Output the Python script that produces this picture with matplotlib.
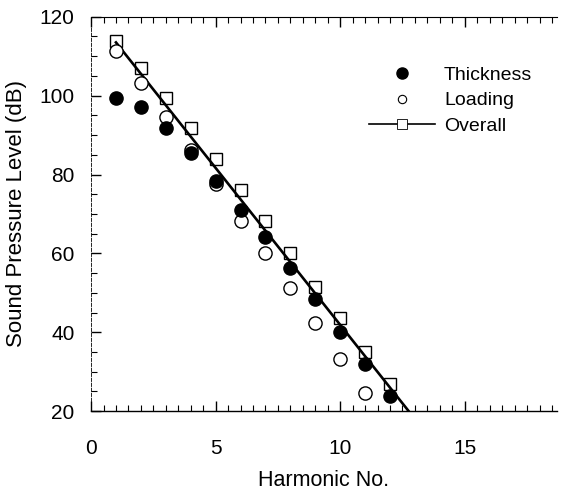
# Harmonic SPL comparison: thickness, loading and overall noise
import numpy as np
import matplotlib.pyplot as plt
from matplotlib.lines import Line2D
from matplotlib.ticker import MultipleLocator

plt.rcParams['font.family'] = ['Liberation Sans', 'DejaVu Sans']

# data
harmonic = [1, 2, 3, 4, 5, 6, 7, 8, 9, 10, 11, 12]
thickness = [99.3, 97.1, 91.8, 85.4, 78.4, 71.1, 64.1, 56.3, 48.4, 40.0, 32.0, 23.8]
loading_harm = [1, 2, 3, 4, 5, 6, 7, 8, 9, 10, 11]
loading = [111.4, 103.2, 94.7, 86.2, 77.5, 68.3, 60.1, 51.2, 42.3, 33.2, 24.5]
overall = [113.8, 107.0, 99.4, 91.8, 83.9, 76.1, 68.3, 60.1, 51.6, 43.6, 35.1, 26.8]
# straight trend line drawn through the overall levels
trend_x = [1, 12.75]
trend_y = [113.5, 20.0]

fig = plt.figure(figsize=(5.62, 4.93), dpi=100)
ax = fig.add_axes([0.162, 0.166, 0.829, 0.80])

ax.plot(trend_x, trend_y, color='black', lw=1.9, zorder=2)
ax.plot(harmonic, overall, ls='none', marker='s', ms=9, mfc='none',
        mec='black', mew=1.0, zorder=3)
ax.plot(loading_harm, loading, ls='none', marker='o', ms=9.5, mfc='white',
        mec='black', mew=1.0, zorder=3)
ax.plot(harmonic, thickness, ls='none', marker='o', ms=9.5, mfc='black',
        mec='black', zorder=4)

ax.set_xlim(0, 18.7)
ax.set_ylim(20, 120)
ax.xaxis.set_major_locator(MultipleLocator(5))
ax.xaxis.set_minor_locator(MultipleLocator(0.5))
ax.yaxis.set_major_locator(MultipleLocator(20))
ax.yaxis.set_minor_locator(MultipleLocator(5))

ax.spines['right'].set_visible(False)
ax.spines['left'].set_linewidth(0.6)
ax.spines['left'].set_linestyle((0, (4, 2)))
ax.spines['top'].set_linewidth(0.8)
ax.spines['bottom'].set_linewidth(1.0)

ax.tick_params(axis='x', which='both', direction='in', top=True, bottom=True)
ax.tick_params(axis='y', which='both', direction='in', left=True, right=False)
ax.tick_params(which='major', length=7, width=1.0)
ax.tick_params(which='minor', length=4, width=0.8)
ax.tick_params(axis='x', labelsize=15, pad=20)
ax.tick_params(axis='y', labelsize=15, pad=12)

ax.set_xlabel('Harmonic No.', fontsize=15.5, labelpad=9)
ax.set_ylabel('Sound Pressure Level (dB)', fontsize=16, labelpad=9)

handles = [
    Line2D([], [], ls='none', marker='o', ms=8, mfc='black', mec='black'),
    Line2D([], [], ls='none', marker='o', ms=6, mfc='white', mec='black', mew=0.8),
    Line2D([], [], color='black', lw=1.2, marker='s', ms=7, mfc='white',
           mec='black', mew=0.6),
]
ax.legend(handles, ['Thickness', 'Loading', 'Overall'], loc='upper left',
          bbox_to_anchor=(0.597, 0.875), frameon=False, fontsize=14,
          handlelength=3.4, handletextpad=0.45, labelspacing=0.42,
          borderpad=0, borderaxespad=0)

fig.savefig('out.png', dpi=100)
